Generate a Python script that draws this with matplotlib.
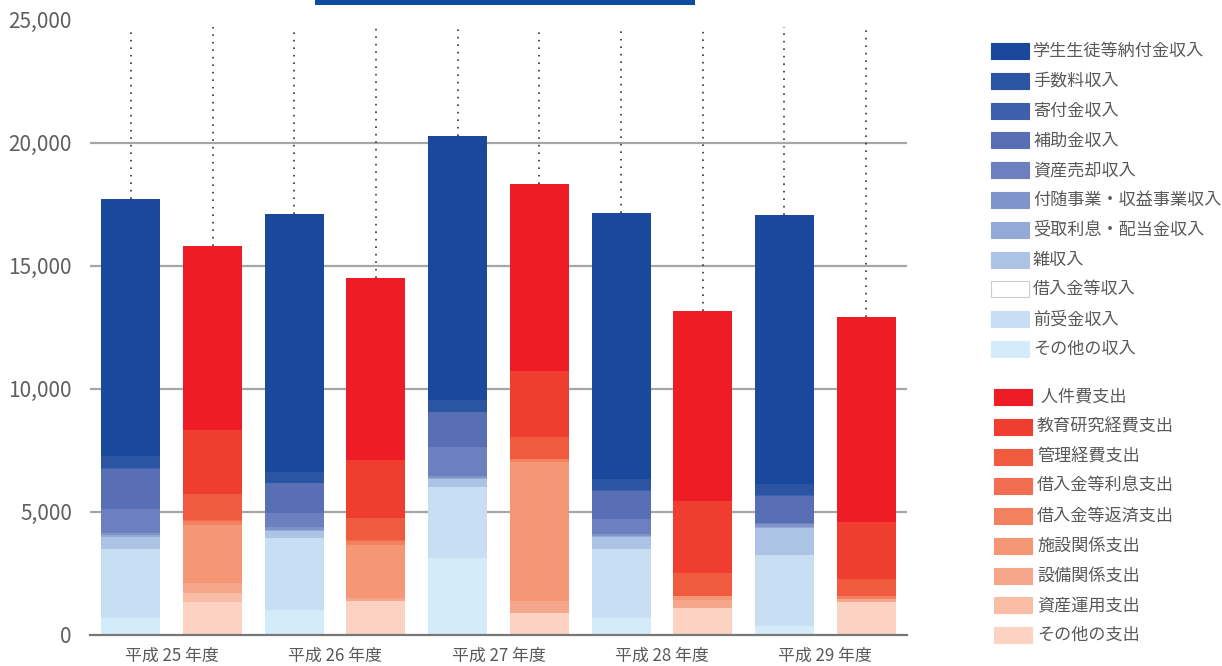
import matplotlib.pyplot as plt
from matplotlib.patches import Rectangle
from matplotlib.ticker import FuncFormatter
import numpy as np

plt.rcParams['font.family'] = ['Noto Sans CJK JP', 'DejaVu Sans']

years = ['平成 25 年度', '平成 26 年度', '平成 27 年度', '平成 28 年度', '平成 29 年度']

# 収入 (top of stack first, same order as legend)
income_labels = ['学生生徒等納付金収入', '手数料収入', '寄付金収入', '補助金収入', '資産売却収入',
                 '付随事業・収益事業収入', '受取利息・配当金収入', '雑収入', '借入金等収入',
                 '前受金収入', 'その他の収入']
income_colors = ['#19489c', '#2b54a3', '#3d5fac', '#586fb5', '#6c80bf', '#8094cb',
                 '#93aad6', '#adc3e5', '#ffffff', '#c8dff3', '#d4ecf9']
income = [
    [10450, 10490, 10730, 10810, 10935],
    [490, 430, 490, 450, 450],
    [30, 20, 10, 40, 40],
    [1640, 1220, 1420, 1140, 1085],
    [965, 570, 1180, 610, 55],
    [80, 120, 80, 95, 125],
    [80, 40, 40, 40, 40],
    [500, 285, 325, 475, 1095],
    [0, 0, 0, 0, 0],
    [2805, 2925, 2885, 2805, 2885],
    [670, 995, 3110, 670, 345],
]

# 支出
expense_labels = [' 人件費支出', '教育研究経費支出', '管理経費支出', '借入金等利息支出', '借入金等返済支出',
                  '施設関係支出', '設備関係支出', '資産運用支出', 'その他の支出']
expense_colors = ['#ee1c25', '#ef3e2f', '#f05a3e', '#f26d51', '#f3805f', '#f59674',
                  '#f6a68a', '#f9bca4', '#fcd3c2']
expense = [
    [7480, 7400, 7600, 7720, 8335],
    [2600, 2355, 2685, 2925, 2315],
    [1055, 895, 895, 935, 690],
    [30, 30, 20, 0, 0],
    [170, 175, 100, 0, 120],
    [2360, 2155, 5650, 165, 0],
    [405, 120, 485, 325, 120],
    [365, 0, 0, 0, 0],
    [1320, 1360, 880, 1075, 1320],
]

W, H = 1222, 666
fig = plt.figure(figsize=(W / 100, H / 100), dpi=100)
ax = fig.add_axes([90 / W, (H - 634.5) / H, (907 - 90) / W, (634.5 - 19.5) / H])

x = np.arange(len(years))
bw = 0.361

def stack(vals, colors, xpos):
    bottom = np.zeros(len(years))
    for v, c in zip(reversed(vals), reversed(colors)):
        ax.bar(xpos, v, bw, bottom=bottom, color=c, linewidth=0, zorder=3)
        bottom += np.array(v)
    return bottom

blue_top = stack(income, income_colors, x - 0.25)
red_top = stack(expense, expense_colors, x + 0.25)

# dotted guide lines above bars
ax.vlines(np.r_[x - 0.25, x + 0.25], np.r_[blue_top, red_top], 24700,
          colors='#333333', linestyles=(0, (1, 3.5)), linewidth=1.2, zorder=1)

for yv in range(5000, 20001, 5000):
    ax.axhline(yv, color='#a6a6a6', linewidth=1.6, zorder=0)
ax.axhline(0, color='#777777', linewidth=1.6, zorder=4, clip_on=False)

ax.set_xlim(-0.5, 4.5)
ax.set_ylim(0, 25000)
for s in ax.spines.values():
    s.set_visible(False)
ax.set_yticks(range(0, 25001, 5000))
ax.yaxis.set_major_formatter(FuncFormatter(lambda v, p: f'{int(v):,}'))
ax.tick_params(axis='y', length=0, pad=13, labelsize=15, labelcolor='#606060')
ax.set_xticks(x, years)
ax.tick_params(axis='x', length=0, pad=9, labelsize=12.2, labelcolor='#595959')

# dark blue bar at the top edge
fig.add_artist(Rectangle((315 / W, 1 - 5 / H), 380 / W, 5 / H,
                         transform=fig.transFigure, color='#0c4da2', linewidth=0))

# legends
def legend_column(labels, colors, px, ty, y0, step):
    for i, (lab, c) in enumerate(zip(labels, colors)):
        cy = y0 + step * i
        ec = '#cccccc' if c == '#ffffff' else c
        fig.add_artist(Rectangle((px / W, 1 - (cy + 8) / H), 38 / W, 16 / H,
                                 transform=fig.transFigure, facecolor=c,
                                 edgecolor=ec, linewidth=0.8))
        fig.text(ty / W, 1 - cy / H, lab, fontsize=12.3, color='#595959',
                 va='center', ha='left')

legend_column(income_labels, income_colors, 991, 1033, 51, 29.8)
legend_column(expense_labels, expense_colors, 994, 1037, 397, 29.75)

fig.savefig('out.png', dpi=100)
